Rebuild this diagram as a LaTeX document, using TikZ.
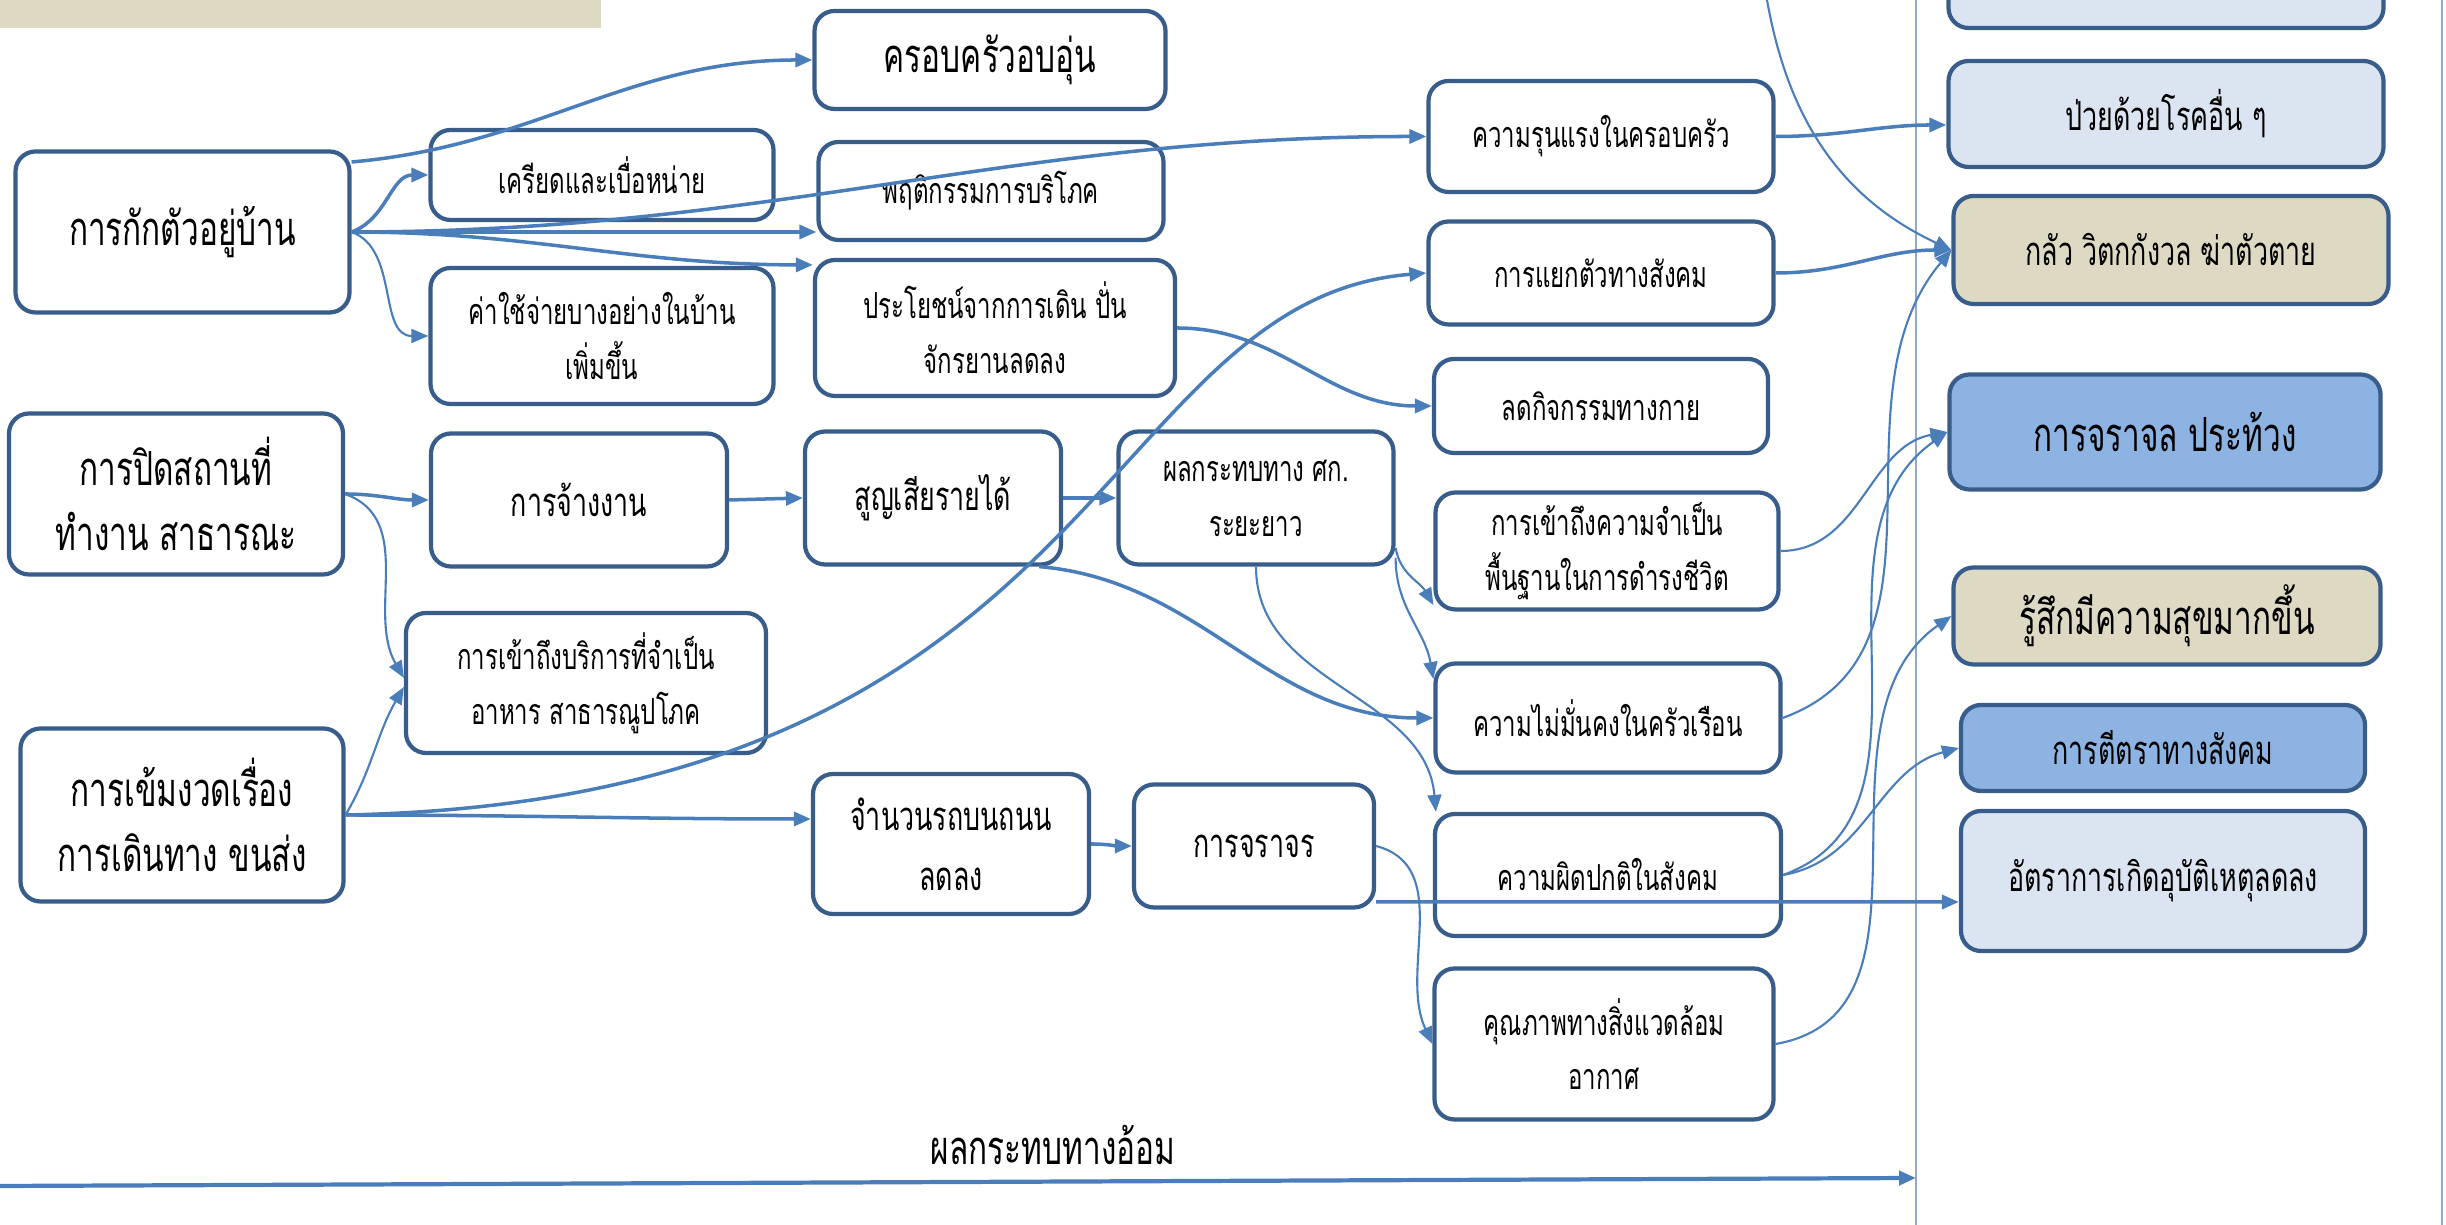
\documentclass[tikz,border=0pt]{standalone}
\usepackage{fontspec}
\setmainfont[Script=Thai,FakeStretch=0.67]{Loma}
\usepackage{tikz}
\usetikzlibrary{arrows.meta, positioning, calc}
\definecolor{boxblue}{HTML}{385D8A}
\definecolor{linkblue}{HTML}{4A7EBB}
\definecolor{paleblue}{HTML}{DBE5F1}
\definecolor{midblue}{HTML}{8DB3E2}
\definecolor{beige}{HTML}{DDD9C3}
\definecolor{rulegray}{HTML}{8EA9CC}
\newcommand{\smalltxt}{\fontsize{10.2}{15.6}\selectfont}
\newcommand{\midtxt}{\fontsize{11.4}{17}\selectfont}
\newcommand{\bigtxt}{\fontsize{13.4}{18.7}\selectfont}

\begin{document}
\begin{tikzpicture}[x=1mm, y=1mm]
		\tikzstyle{effect}=[draw=boxblue, line width=1.2pt, rounded corners=2mm, fill=white, text=black, align=center, inner sep=0pt, font=\smalltxt]
		\tikzstyle{outcome}=[effect, font=\midtxt]
		\tikzstyle{cause}=[effect, font=\bigtxt]
		\tikzstyle{link}=[draw=linkblue, line width=1pt, -{Triangle[length=1.7mm,width=1.4mm]}]
		\tikzstyle{thinlink}=[link, line width=0.6pt]
		
		\useasboundingbox (0,0) rectangle (244.6,122.5);
		\fill [beige] (0,119.7) rectangle (60.1,122.5);
		
		\coordinate (divbase) at (191.6,0);
		\coordinate (divtop) at (191.6,122.5);
		\coordinate (edgebase) at (244.2,0);
		\coordinate (edgetop) at (244.2,122.5);
		\draw [rulegray, line width=0.6pt] (divbase) -- (divtop);
		\draw [rulegray, line width=0.6pt] (edgebase) -- (edgetop);
		
		\node (stay) at (18.25,99.3) [cause, minimum width=33.4mm, minimum height=16.1mm] {การกักตัวอยู่บ้าน};
		\node (close) at (17.6,73.1) [cause, minimum width=33.4mm, minimum height=16.1mm] {การปิดสถานที่\\ทำงาน สาธารณะ};
		\node (strict) at (18.2,41.0) [cause, minimum width=32.3mm, minimum height=17.3mm] {การเข้มงวดเรื่อง\\การเดินทาง ขนส่ง};
		
		\node (stress) at (60.2,105.0) [effect, minimum width=34.3mm, minimum height=9mm] {เครียดและเบื่อหน่าย};
		\node (cost) at (60.2,88.9) [effect, minimum width=34.3mm, minimum height=13.6mm] {ค่าใช้จ่ายบางอย่างในบ้าน\\เพิ่มขึ้น};
		\node (employ) at (57.9,72.5) [outcome, minimum width=29.6mm, minimum height=13.3mm] {การจ้างงาน};
		\node (access) at (58.6,54.2) [effect, minimum width=36mm, minimum height=14mm] {การเข้าถึงบริการที่จำเป็น\\อาหาร สาธารณูปโภค};
		
		\node (family) at (99.0,116.5) [cause, minimum width=35.1mm, minimum height=9.8mm] {ครอบครัวอบอุ่น};
		\node (consume) at (99.1,103.4) [effect, minimum width=34.5mm, minimum height=9.8mm] {พฤติกรรมการบริโภค};
		\node (walk) at (99.5,89.7) [effect, minimum width=36mm, minimum height=13.6mm] {ประโยชน์จากการเดิน ปั่น\\จักรยานลดลง};
		\node (loss) at (93.3,72.7) [outcome, minimum width=25.6mm, minimum height=13.3mm] {สูญเสียรายได้};
		\node (cars) at (95.1,38.1) [outcome, minimum width=27.6mm, minimum height=14mm] {จำนวนรถบนถนน\\ลดลง};
		
		\node (econ) at (125.6,72.7) [effect, minimum width=27.5mm, minimum height=13.3mm] {ผลกระทบทาง ศก.\\ระยะยาว};
		\node (traffic) at (125.4,37.9) [outcome, minimum width=24mm, minimum height=12.3mm] {การจราจร};
		
		\node (violence) at (160.1,108.85) [effect, minimum width=34.5mm, minimum height=11.1mm] {ความรุนแรงในครอบครัว};
		\node (isolate) at (160.1,95.2) [effect, minimum width=34.5mm, minimum height=10.3mm] {การแยกตัวทางสังคม};
		\node (activity) at (160.1,81.9) [effect, minimum width=33.4mm, minimum height=9.4mm] {ลดกิจกรรมทางกาย};
		\node (basic) at (160.7,67.4) [effect, minimum width=34.3mm, minimum height=11.7mm] {การเข้าถึงความจำเป็น\\พื้นฐานในการดำรงชีวิต};
		\node (insecure) at (160.8,50.7) [effect, minimum width=34.5mm, minimum height=10.9mm] {ความไม่มั่นคงในครัวเรือน};
		\node (disorder) at (160.8,35.0) [effect, minimum width=34.6mm, minimum height=12.2mm] {ความผิดปกติในสังคม};
		\node (air) at (160.4,18.1) [effect, minimum width=33.9mm, minimum height=15.1mm] {คุณภาพทางสิ่งแวดล้อม\\อากาศ};
		
		\node (topbox) at (216.6,125.0) [outcome, fill=paleblue, minimum width=43.5mm, minimum height=10.6mm] {};
		\node (sick) at (216.6,111.1) [outcome, fill=paleblue, minimum width=43.5mm, minimum height=10.6mm] {ป่วยด้วยโรคอื่น ๆ};
		\node (fear) at (217.1,97.5) [outcome, fill=beige, minimum width=43.5mm, minimum height=10.8mm] {กลัว วิตกกังวล ฆ่าตัวตาย};
		\node (riot) at (216.5,79.3) [cause, fill=midblue, minimum width=43.1mm, minimum height=11.5mm] {การจราจล ประท้วง};
		\node (happy) at (216.7,60.9) [cause, fill=beige, minimum width=42.7mm, minimum height=9.7mm] {รู้สึกมีความสุขมากขึ้น};
		\node (stigma) at (216.3,47.7) [outcome, fill=midblue, minimum width=40.4mm, minimum height=8.6mm] {การตีตราทางสังคม};
		\node (accident) at (216.3,34.4) [outcome, fill=paleblue, minimum width=40.4mm, minimum height=14mm] {อัตราการเกิดอุบัติเหตุลดลง};
		
		\node (indirect) at (105.3,8.0) [font=\bigtxt] {ผลกระทบทางอ้อม};
		\coordinate (lft) at (0,3.9);
		\coordinate (divhit) at (191.6,4.7);
		\coordinate (topin) at (176.7,122.5);
		
		\draw [link] ([yshift=7mm]stay.east) to[out=5,in=180] (family.west);
		\draw [link] (stay.east) to[out=20,in=180] (stress.west);
		\draw [thinlink] (stay.east) to[out=-20,in=180] (cost.west);
		\draw [link] (stay.east) -- (stay.east -| consume.west);
		\draw [link] (stay.east) to[out=0,in=180] ([yshift=-0.7mm]walk.north west);
		\draw [link] (stay.east) to[out=0,in=180] (violence.west);
		
		\draw [link] (close.east) to[out=0,in=180] (employ.west);
		\draw [thinlink] (close.east) to[out=-20,in=120] ([yshift=0.5mm]access.west);
		\draw [thinlink] (strict.east) to[out=60,in=-120] ([yshift=-0.4mm]access.west);
		\draw [link] (strict.east) to[out=0,in=180] ([yshift=2.5mm]cars.west);
		\draw [link] (strict.east) .. controls +(76,1.5) and +(-33,-2.7) .. (isolate.west);
		
		\draw [link] (employ.east) -- (loss.west);
		\draw [link] (loss.east) -- (econ.west);
		\draw [link] ([xshift=-2.4mm]loss.south east) to[out=-5,in=180] (insecure.west);
		\draw [thinlink] (econ.south) to[out=-90,in=95] ([xshift=0.3mm]disorder.north west);
		\draw [thinlink] ([yshift=-5mm]econ.east) to[out=-80,in=120] ([yshift=-5.4mm]basic.west);
		\draw [thinlink] ([yshift=-6mm]econ.east) to[out=-90,in=100] ([yshift=3.9mm]insecure.west);
		\draw [link] (walk.east) to[out=0,in=180] (activity.west);
		\draw [link] (cars.east) to[out=0,in=180] (traffic.west);
		\draw [thinlink] (traffic.east) to[out=-15,in=115] (air.west);
		\draw [link] ([yshift=-5.6mm]traffic.east) -- ([yshift=-2.1mm]accident.west);
		
		\draw [link] (violence.east) to[out=0,in=180] ([yshift=-1.1mm]sick.west);
		\draw [link] (isolate.east) to[out=0,in=180] (fear.west);
		\draw [thinlink] (topin) to[out=-80,in=155] (fear.west);
		\draw [thinlink] (insecure.east) to[out=20,in=230] (fear.west);
		\draw [thinlink] (basic.east) to[out=0,in=190] (riot.west);
		\draw [thinlink] (disorder.east) to[out=20,in=215] (riot.west);
		\draw [thinlink] (disorder.east) to[out=10,in=195] (stigma.west);
		\draw [thinlink] (air.east) to[out=10,in=215] (happy.west);
		
		\draw [link, line width=1.2pt] (lft) -- (divhit);
\end{tikzpicture}
\end{document}
